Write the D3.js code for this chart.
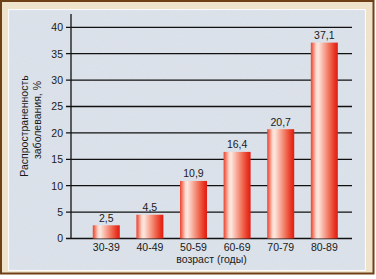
<!DOCTYPE html>
<html><head><meta charset="utf-8">
<script src="https://cdn.jsdelivr.net/npm/d3@7/dist/d3.min.js"></script>
<style>html,body{margin:0;padding:0;background:#fff;}svg{display:block;}</style>
</head><body>
<script>
const categories = ["30-39","40-49","50-59","60-69","70-79","80-89"];
const values = [2.5, 4.5, 10.9, 16.4, 20.7, 37.1];
const valueLabels = ["2,5","4,5","10,9","16,4","20,7","37,1"];
const yTicks = [0,5,10,15,20,25,30,35,40];
const xTitle = "возраст (годы)";
const yTitleLines = ["Распространенность","заболевания, %"];

const W = 376, H = 279;
const svg = d3.select("body").append("svg").attr("width", W).attr("height", H);
const defs = svg.append("defs");

const grad = defs.append("linearGradient").attr("id","barGrad").attr("x1","0").attr("x2","1").attr("y1","0").attr("y2","0");
[[0,"#e8432f"],[0.08,"#f27a66"],[0.2,"#fcd9cd"],[0.28,"#fde6de"],[0.45,"#f9b4a4"],[0.7,"#f06a52"],[0.9,"#e8301f"],[1,"#e01c14"]]
  .forEach(([o,c]) => grad.append("stop").attr("offset",o).attr("stop-color",c));

const noise = defs.append("filter").attr("id","tex").attr("x",0).attr("y",0).attr("width","100%").attr("height","100%");
noise.append("feTurbulence").attr("type","fractalNoise").attr("baseFrequency",0.9).attr("numOctaves",2).attr("seed",3).attr("result","n");
noise.append("feColorMatrix").attr("in","n").attr("type","matrix")
  .attr("values","0 0 0 0 0.45  0 0 0 0 0.5  0 0 0 0 0.58  0 0 0 0.12 0").attr("result","m");
noise.append("feComposite").attr("in","m").attr("in2","SourceGraphic").attr("operator","atop");

// frame
svg.append("rect").attr("x",1).attr("y",1).attr("width",372.5).attr("height",272.5)
  .attr("fill","#efe4cb").attr("stroke","#6e4016").attr("stroke-width",2);
svg.append("rect").attr("x",8.5).attr("y",9.5).attr("width",357).attr("height",261)
  .attr("fill","#dde3eb").attr("stroke","#ffffff").attr("stroke-width",1.2).attr("filter","url(#tex)");

const x0 = 71, xEnd = 352;
const x = d3.scaleBand().domain(categories).range([84.5, 346.1]).paddingInner(0.381).paddingOuter(0.19);
const y = d3.scaleLinear().domain([0,40]).range([238.5, 27.3]);

const font = "'Liberation Sans', Arial, sans-serif";
const fs = 10.5;

// gridlines
svg.append("g").selectAll("line").data(yTicks).join("line")
  .attr("x1", x0 - 5).attr("x2", xEnd)
  .attr("y1", d => y(d)).attr("y2", d => y(d))
  .attr("stroke","#111").attr("stroke-width",1.3);

// y axis
svg.append("line").attr("x1",x0).attr("x2",x0).attr("y1",y(42.5)).attr("y2",y(0))
  .attr("stroke","#111").attr("stroke-width",1.3);
const yAxis = svg.append("g").attr("transform",`translate(${x0},0)`)
  .call(d3.axisLeft(y).tickValues(yTicks).tickSize(0).tickPadding(8).tickFormat(d3.format("d")));
yAxis.select(".domain").remove();
yAxis.selectAll("text").attr("font-family",font).attr("font-size",fs).attr("fill","#1a1a1a");

// bars
svg.append("g").selectAll("rect").data(values).join("rect")
  .attr("x",(d,i)=>x(categories[i])).attr("width",x.bandwidth())
  .attr("y",d=>y(d)).attr("height",d=>y(0)-y(d))
  .attr("fill","url(#barGrad)");

// value labels
svg.append("g").selectAll("text").data(values).join("text")
  .attr("x",(d,i)=>x(categories[i])+x.bandwidth()/2).attr("y",d=>y(d)-3.5)
  .attr("text-anchor","middle").attr("font-family",font).attr("font-size",fs).attr("fill","#1a1a1a")
  .text((d,i)=>valueLabels[i]);

// x axis labels
const xAxis = svg.append("g").attr("transform",`translate(0,${y(0)})`)
  .call(d3.axisBottom(x).tickSize(0).tickPadding(5));
xAxis.select(".domain").remove();
xAxis.selectAll("text").attr("font-family",font).attr("font-size",fs).attr("fill","#1a1a1a");

svg.append("text").attr("x",(x0+xEnd)/2).attr("y",263)
  .attr("text-anchor","middle").attr("font-family",font).attr("font-size",fs).attr("fill","#1a1a1a")
  .text(xTitle);

// y title
const yt = svg.append("text").attr("transform","translate(28,126) rotate(-90)")
  .attr("text-anchor","middle").attr("font-family",font).attr("font-size",fs).attr("fill","#1a1a1a");
yt.append("tspan").attr("x",0).attr("y",0).text(yTitleLines[0]);
yt.append("tspan").attr("x",6).attr("y",12.5).text(yTitleLines[1]);
</script>
</body></html>
